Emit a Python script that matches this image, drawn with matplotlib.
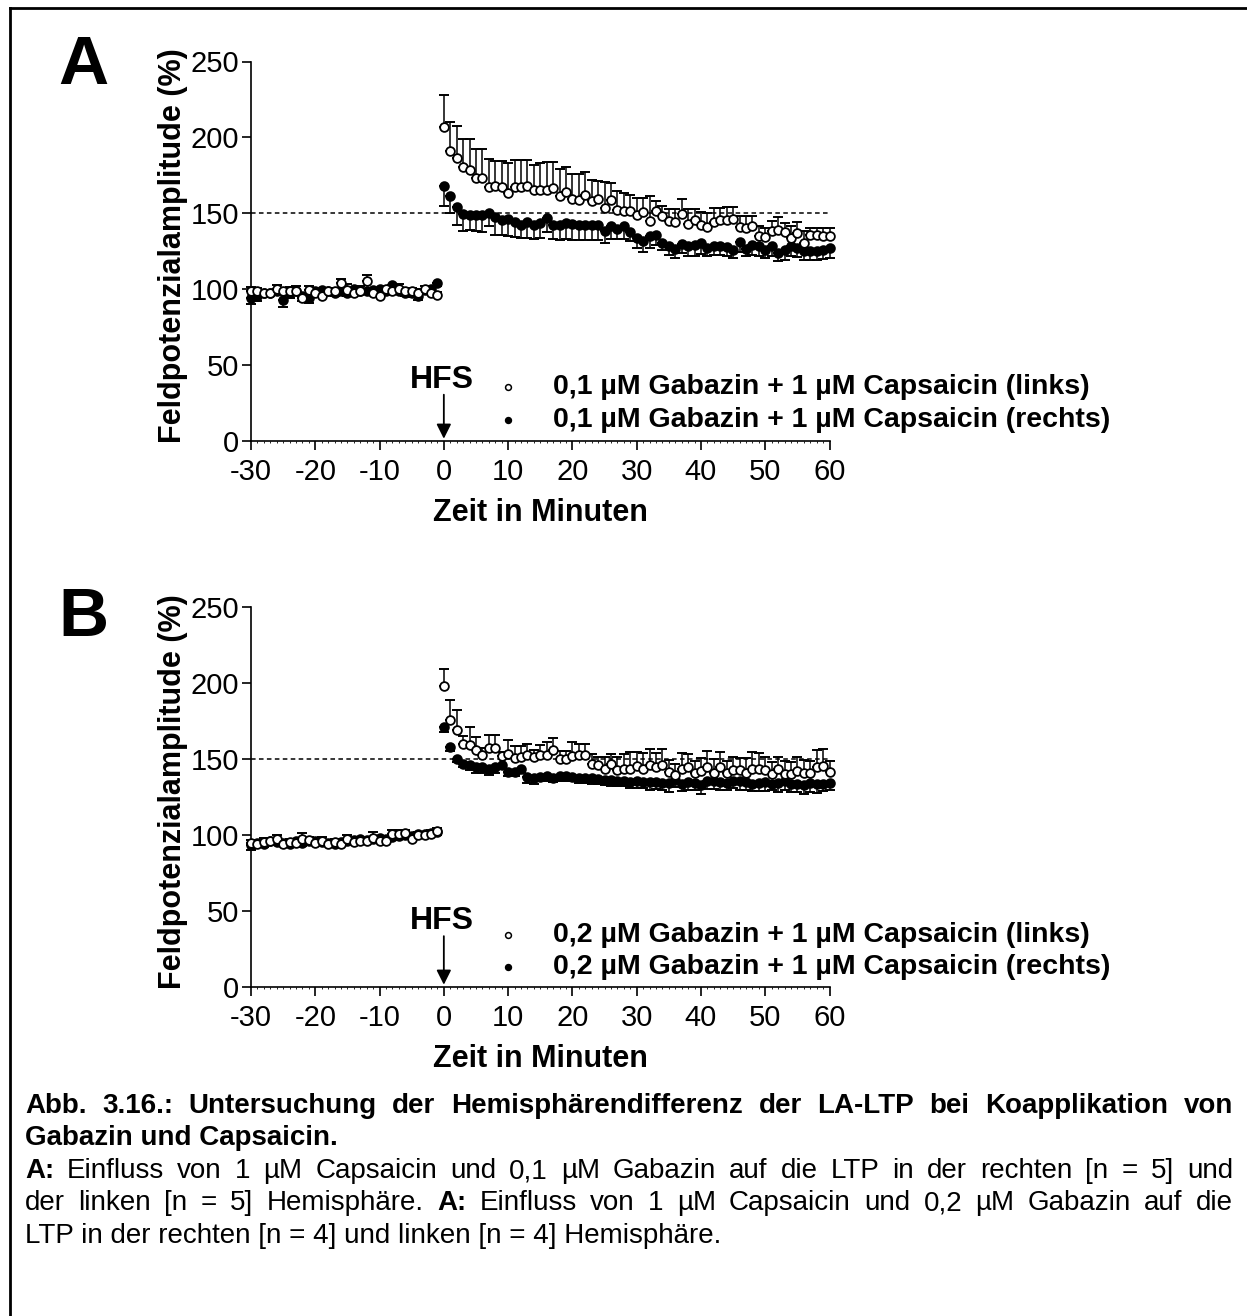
import matplotlib
matplotlib.use('Agg')
import matplotlib.pyplot as plt
from matplotlib.lines import Line2D
from matplotlib.ticker import MultipleLocator

plt.rcParams['font.family'] = ['Liberation Sans', 'DejaVu Sans']
plt.rcParams['axes.unicode_minus'] = False

W, H = 1247, 1316

# Zeit (min): Baseline vor HFS, Messungen nach HFS
t_base = list(range(-30, 0))
t_post = list(range(0, 61))

# --- Panel A: 0,1 µM Gabazin + 1 µM Capsaicin ---
a_links_base = [98.5, 98.5, 97.8, 97.4, 100.0, 98.5, 98.5, 98.9, 94.1, 99.3,
                97.4, 95.6, 98.9, 98.9, 104.0, 99.3, 97.4, 98.9, 105.1, 97.4,
                95.6, 100.0, 98.9, 100.4, 98.5, 98.9, 97.4, 100.4, 97.4, 96.3]
a_links_base_err = [3, 2, 2, 2, 3, 2, 3, 3, 2, 3, 2, 3, 2, 2, 3, 4, 2, 3, 4, 2,
                    3, 2, 2, 3, 2, 2, 3, 2, 2, 2]
a_links_post = [206.7, 190.9, 186.5, 180.3, 178.3, 173.0, 173.0, 167.6, 168.2, 167.3,
                163.4, 167.3, 167.1, 167.8, 165.6, 165.6, 165.6, 166.7, 161.2, 164.0,
                159.6, 158.5, 161.8, 158.1, 159.4, 153.5, 158.5, 152.4, 151.3, 151.3,
                149.1, 150.6, 145.1, 151.3, 148.4, 144.7, 144.0, 149.3, 142.9, 145.8,
                142.5, 141.0, 144.0, 145.8, 145.3, 146.2, 140.7, 140.3, 141.8, 135.2,
                134.3, 138.1, 139.2, 137.4, 133.7, 137.0, 130.4, 135.9, 135.9, 135.2,
                135.2]
a_links_post_err = [21.1, 19.4, 21.3, 18.7, 20.7, 19.6, 19.6, 18.2, 16.5, 16.9,
                    19.8, 17.8, 18.0, 17.4, 16.1, 17.8, 18.2, 17.2, 18.2, 16.3,
                    16.5, 17.6, 15.4, 13.6, 11.7, 16.9, 11.4, 12.1, 12.1, 11.0,
                    11.0, 9.5, 16.1, 6.6, 6.2, 8.1, 8.8, 10.1, 9.9, 7.0,
                    8.1, 9.2, 9.5, 7.7, 8.8, 7.9, 7.7, 7.7, 6.2, 6.2,
                    5.9, 6.6, 8.1, 6.2, 7.7, 7.0, 7.7, 4.4, 4.4, 5.1, 5.1]
a_rechts_base = [94.1, 95.2, 97.4, 97.8, 98.9, 93.0, 97.4, 98.9, 95.2, 94.1,
                 98.9, 99.3, 98.9, 97.8, 98.7, 97.8, 100.4, 98.9, 98.9, 99.3,
                 100.4, 98.5, 102.9, 98.9, 97.4, 97.8, 95.6, 99.3, 100.0, 104.0]
a_rechts_base_err = [4, 3, 2, 2, 2, 5, 3, 2, 3, 3, 2, 2, 2, 2, 2, 2, 2, 2, 2, 2,
                     2, 2, 3, 2, 2, 3, 3, 2, 2, 2]
a_rechts_post = [167.8, 161.2, 153.9, 149.5, 149.1, 149.1, 148.6, 150.2, 147.3, 145.8,
                 146.2, 144.0, 142.5, 144.0, 142.0, 143.6, 146.9, 142.0, 142.0, 143.6,
                 142.9, 142.5, 142.5, 142.5, 142.3, 138.1, 141.8, 139.6, 141.4, 137.4,
                 133.7, 131.5, 134.8, 135.4, 130.4, 128.2, 126.4, 129.7, 128.6, 129.3,
                 130.4, 127.1, 128.6, 128.2, 127.5, 126.0, 131.0, 126.4, 129.3, 128.2,
                 126.0, 128.2, 123.8, 126.0, 128.2, 127.1, 124.9, 124.9, 124.9, 125.6,
                 127.1]
a_rechts_post_err = [12.8, 11.0, 11.9, 11.4, 10.3, 11.0, 11.2, 8.8, 11.4, 9.9,
                     11.0, 9.7, 8.8, 10.3, 9.0, 9.9, 9.5, 9.0, 9.5, 10.6,
                     10.3, 9.9, 9.9, 9.9, 9.7, 7.7, 8.8, 6.6, 8.4, 5.9,
                     6.6, 7.3, 7.7, 6.2, 4.8, 5.5, 5.9, 5.9, 6.6, 7.3,
                     7.0, 5.5, 5.9, 5.5, 5.9, 5.5, 6.8, 4.8, 6.6, 6.6,
                     5.5, 6.6, 5.5, 6.6, 6.6, 6.2, 5.5, 5.5, 5.5, 5.5, 6.6]

# --- Panel B: 0,2 µM Gabazin + 1 µM Capsaicin ---
b_links_base = [94.6, 93.9, 95.2, 96.1, 97.4, 93.9, 95.7, 94.6, 97.4, 96.7,
                94.6, 96.1, 93.9, 95.7, 93.9, 97.4, 95.2, 96.1, 96.1, 98.3,
                96.1, 96.1, 101.1, 101.1, 101.7, 97.8, 100.0, 100.4, 101.1, 102.6]
b_links_base_err = [2, 2, 3, 2, 3, 3, 2, 2, 4, 2, 2, 3, 2, 2, 2, 3, 2, 2, 2, 4,
                    2, 2, 2, 2, 2, 2, 2, 2, 2, 2]
b_links_post = [198.3, 176.1, 169.6, 159.8, 159.1, 155.9, 152.6, 157.6, 157.6, 152.0,
                153.7, 151.1, 151.5, 152.6, 151.5, 152.6, 152.6, 155.9, 150.4, 150.4,
                152.0, 152.6, 152.6, 147.2, 146.1, 143.9, 147.2, 142.8, 143.3, 143.9,
                145.5, 143.9, 146.1, 144.6, 146.1, 141.7, 139.6, 143.9, 144.6, 141.1,
                142.4, 144.6, 141.1, 144.6, 141.1, 142.8, 142.8, 140.7, 143.3, 143.9,
                142.8, 140.2, 143.3, 140.2, 140.2, 142.4, 140.7, 141.1, 144.6, 145.5,
                141.7]
b_links_post_err = [11.5, 12.8, 12.8, 5.8, 12.0, 9.1, 5.0, 8.5, 8.7, 2.8,
                    9.1, 7.4, 7.0, 7.6, 4.3, 6.5, 8.7, 8.3, 5.0, 5.0,
                    9.3, 7.2, 7.2, 6.0, 5.4, 7.6, 6.0, 8.7, 10.0, 10.9,
                    9.0, 10.0, 10.5, 9.5, 11.0, 8.0, 7.0, 10.5, 9.0, 8.0,
                    8.5, 11.0, 9.0, 10.5, 8.0, 9.0, 8.0, 10.0, 11.5, 10.0,
                    9.0, 8.0, 8.5, 9.0, 8.0, 9.0, 9.0, 8.0, 11.5, 11.0, 7.0]
b_rechts_base = [93.5, 95.0, 94.0, 96.5, 95.5, 95.0, 94.5, 96.0, 95.0, 96.5,
                 96.0, 95.5, 95.0, 94.5, 95.5, 96.5, 97.0, 97.5, 97.0, 97.5,
                 98.0, 97.5, 99.0, 99.5, 100.0, 99.5, 100.5, 101.0, 101.5, 102.0]
b_rechts_base_err = [3, 2, 2, 2, 2, 2, 2, 3, 2, 2, 2, 2, 2, 2, 2, 2, 2, 2, 2, 2,
                     2, 2, 2, 2, 2, 2, 2, 2, 2, 2]
b_rechts_post = [171.5, 158.0, 150.4, 147.2, 146.1, 145.0, 144.6, 143.9, 145.0, 146.5,
                 141.7, 141.7, 143.9, 138.5, 137.4, 138.5, 138.9, 137.8, 138.9, 138.9,
                 138.1, 137.4, 137.4, 137.4, 136.7, 136.3, 136.3, 135.9, 135.7, 135.2,
                 135.5, 135.0, 134.8, 135.2, 134.5, 134.2, 136.5, 134.0, 135.0, 134.5,
                 133.2, 135.5, 136.0, 135.0, 134.5, 135.5, 136.0, 135.0, 133.8, 134.5,
                 135.0, 134.0, 134.5, 135.5, 133.5, 134.0, 133.0, 134.5, 133.5, 134.0,
                 134.5]
b_rechts_post_err = [3.7, 2.5, 2.0, 2.5, 3.0, 4.0, 3.5, 4.0, 4.0, 3.0,
                     3.0, 3.0, 2.5, 4.0, 3.5, 3.0, 3.0, 2.5, 3.0, 3.0,
                     2.5, 3.0, 3.0, 3.5, 3.0, 3.5, 4.0, 3.5, 3.5, 4.0,
                     4.5, 4.0, 5.0, 4.5, 5.0, 6.0, 4.5, 5.0, 5.5, 4.5,
                     6.0, 5.0, 5.5, 5.0, 5.0, 4.5, 6.0, 5.0, 5.0, 5.5,
                     6.0, 4.5, 6.0, 5.5, 5.0, 5.5, 6.0, 6.0, 5.5, 5.0, 5.0]

x_ticks = [-30, -20, -10, 0, 10, 20, 30, 40, 50, 60]
y_ticks = [0, 50, 100, 150, 200, 250]


def fig_xy(x, y):
    return x / W, 1 - y / H


def draw_series(ax, t, vals, errs, filled):
    zeros = [0] * len(errs)
    yerr = [errs, zeros] if filled else [zeros, errs]
    ax.errorbar(t, vals, yerr=yerr, fmt='none', ecolor='k', elinewidth=1.1,
                capsize=3.8, capthick=1.4, clip_on=False, zorder=3)
    ax.plot(t, vals, 'o', ms=6.3, mec='k', mew=1.3,
            mfc='k' if filled else 'white', clip_on=False, zorder=4)


def panel(bottom_px, letter, letter_y, conc, links, rechts, hfs_y, leg_y):
    ax = fig.add_axes([251 / W, 1 - bottom_px / H, 578.5 / W, 379.5 / H])
    for s in ('top', 'right'):
        ax.spines[s].set_visible(False)
    for s in ('left', 'bottom'):
        ax.spines[s].set_linewidth(1.2)
    ax.set_xlim(-30, 60)
    ax.set_ylim(0, 250)
    ax.set_xticks(x_ticks)
    ax.set_yticks(y_ticks)
    ax.xaxis.set_minor_locator(MultipleLocator(1))
    ax.tick_params(which='major', direction='out', length=6.5, width=1.2,
                   labelsize=21, pad=2)
    ax.tick_params(axis='x', which='major', pad=6)
    ax.tick_params(axis='x', which='minor', direction='out', length=1.5, width=0.6)
    ax.tick_params(axis='y', which='minor', left=False)

    ax.axhline(150, color='k', lw=1.1, ls=(0, (3, 2.2)), zorder=1)

    # rechts (gefuellt) zuerst, links (offen) darueber
    draw_series(ax, t_base, rechts[0], rechts[1], True)
    draw_series(ax, t_post, rechts[2], rechts[3], True)
    draw_series(ax, t_base, links[0], links[1], False)
    draw_series(ax, t_post, links[2], links[3], False)

    ax.set_xlabel('Zeit in Minuten', fontsize=22, weight='bold', va='center')
    ax.xaxis.set_label_coords(0.5, -0.19)
    ax.set_ylabel('Feldpotenzialamplitude (%)', fontsize=22, weight='bold', va='center')
    ax.yaxis.set_label_coords(-0.135, 0.515)

    ax.text(-0.3, hfs_y, 'HFS', ha='center', va='center', fontsize=23, weight='bold')
    ax.annotate('', xy=(0, 1.5), xytext=(0, hfs_y - 10),
                arrowprops=dict(arrowstyle='-|>', color='k', lw=1.3,
                                mutation_scale=22, shrinkA=0, shrinkB=0))

    labels = [f'{conc} µM Gabazin + 1 µM Capsaicin (links)',
              f'{conc} µM Gabazin + 1 µM Capsaicin (rechts)']
    for lab, yy, face in zip(labels, leg_y, ['white', 'k']):
        ax.plot([10], [yy], 'o', ms=4.2, mec='k', mew=1.1, mfc=face, clip_on=False)
        ax.text(17.0, yy, lab, fontsize=20.5, weight='bold', va='center')

    fig.text(*fig_xy(83, letter_y), letter, fontsize=50, weight='bold',
             ha='center', va='center')
    return ax


fig = plt.figure(figsize=(W / 100, H / 100), dpi=100)

panel(441, 'A', 66, '0,1',
      (a_links_base, a_links_base_err, a_links_post, a_links_post_err),
      (a_rechts_base, a_rechts_base_err, a_rechts_post, a_rechts_post_err),
      40.5, (35.5, 14.0))
panel(987, 'B', 618, '0,2',
      (b_links_base, b_links_base_err, b_links_post, b_links_post_err),
      (b_rechts_base, b_rechts_base_err, b_rechts_post, b_rechts_post_err),
      43.5, (34.0, 13.5))

# Rahmen (links und oben sichtbar)
fig.add_artist(Line2D([10 / W, 10 / W], [0, 1 - 8 / H], color='k', lw=2.0))
fig.add_artist(Line2D([10 / W, 1], [1 - 8 / H, 1 - 8 / H], color='k', lw=2.0))

# Bildunterschrift (Blocksatz)
cap_left, cap_right, cap_size = 25, 1233, 20
caption = [
    (1113, True, [('Abb. 3.16.: Untersuchung der Hemisphärendifferenz der LA-LTP bei Koapplikation von', 'bold')]),
    (1145, False, [('Gabazin und Capsaicin.', 'bold')]),
    (1178, True, [('A:', 'bold'),
                  ('Einfluss von 1 µM Capsaicin und 0,1 µM Gabazin auf die LTP in der rechten [n = 5] und', 'normal')]),
    (1210, True, [('der linken [n = 5] Hemisphäre.', 'normal'), ('A:', 'bold'),
                  ('Einfluss von 1 µM Capsaicin und 0,2 µM Gabazin auf die', 'normal')]),
    (1243, False, [('LTP in der rechten [n = 4] und linken [n = 4] Hemisphäre.', 'normal')]),
]
renderer = fig.canvas.get_renderer()
for y, justify, segs in caption:
    if not justify:
        fig.text(*fig_xy(cap_left, y), ' '.join(s for s, _ in segs), fontsize=cap_size,
                 weight=segs[0][1], va='baseline')
        continue
    words = [(w, wt) for s, wt in segs for w in s.split()]
    texts = [fig.text(*fig_xy(0, y), w, fontsize=cap_size, weight=wt, va='baseline')
             for w, wt in words]
    widths = [t.get_window_extent(renderer).width for t in texts]
    gap = (cap_right - cap_left - sum(widths)) / (len(words) - 1)
    x = cap_left
    for t, w in zip(texts, widths):
        t.set_x(x / W)
        x += w + gap

fig.savefig('out.png', dpi=100, facecolor='white')
